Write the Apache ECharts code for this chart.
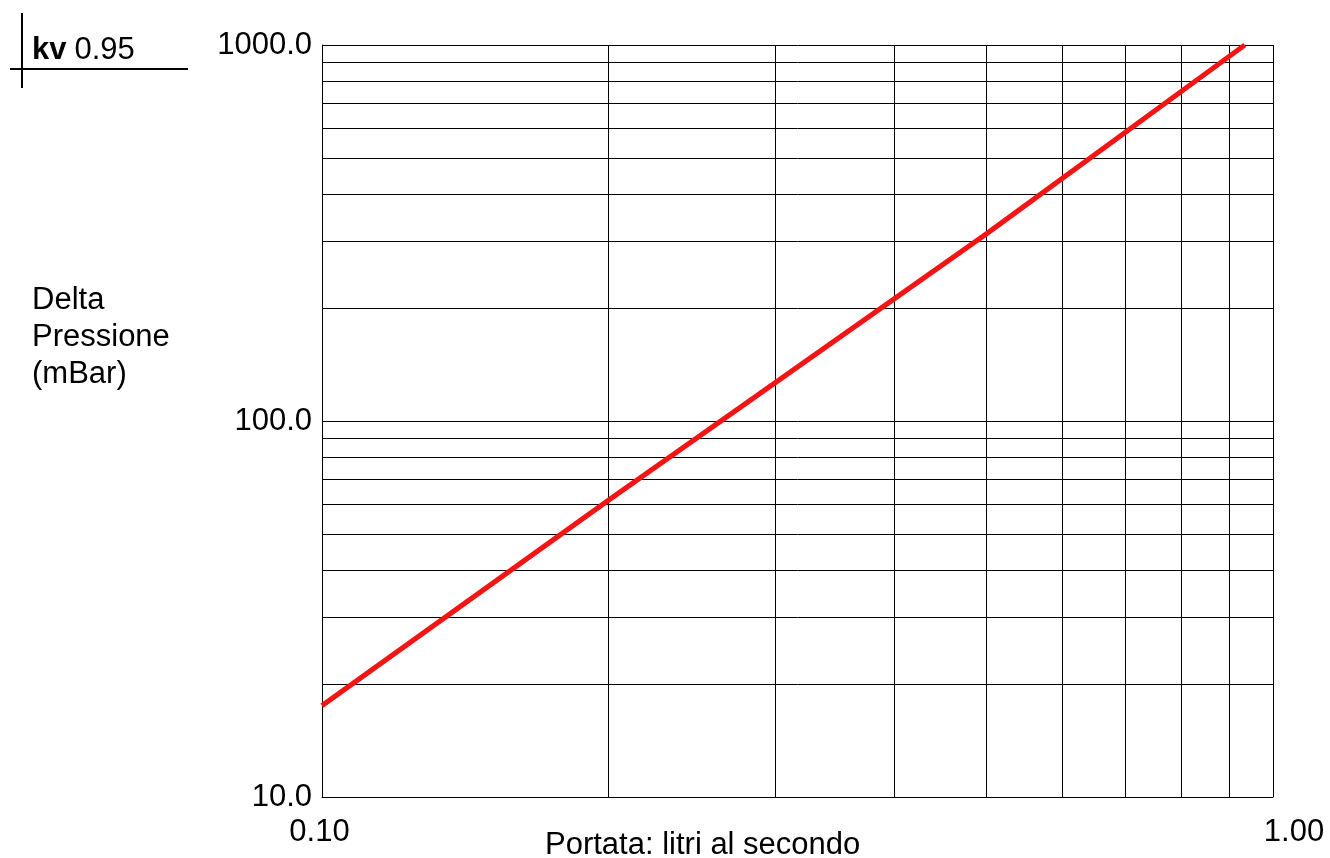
<!DOCTYPE html>
<html><head><meta charset="utf-8">
<script src="https://cdn.jsdelivr.net/npm/echarts@6/dist/echarts.min.js"></script>
<style>html,body{margin:0;padding:0;background:#fff}#c{width:1330px;height:858px}</style>
</head><body><div id="c"></div>
<script>
const flowX = [0.1, 0.2, 0.5, 0.934];
const pressureY = [17.5, 61.5, 315, 1000];
const xMinorGrid = [0.2, 0.3, 0.4, 0.5, 0.6, 0.7, 0.8, 0.9];
const yMinorGrid = [20, 30, 40, 50, 60, 70, 80, 90, 200, 300, 400, 500, 600, 700, 800, 900];
const kvValue = '0.95';
const xTitle = 'Portata: litri al secondo';
const yTitle = 'Delta\nPressione\n(mBar)';

const FONT = 'Liberation Sans, Arial, sans-serif';
const FS = 31;
const chart = echarts.init(document.getElementById('c'));
const pts = flowX.map((x, i) => [x, pressureY[i]]);
const gridLines = xMinorGrid.map(v => ({xAxis: v})).concat(yMinorGrid.map(v => ({yAxis: v})));

chart.setOption({
  animation: false,
  backgroundColor: '#fff',
  textStyle: {fontFamily: FONT},
  title: [
    {left: 27, top: 30, text: '{b|kv} {n|' + kvValue + '}',
     textStyle: {fontWeight: 'normal', rich: {
       b: {fontSize: FS, fontWeight: 'bold', fontFamily: FONT, color: '#000'},
       n: {fontSize: FS, fontWeight: 'normal', fontFamily: FONT, color: '#000', padding: [0, 0, 0, 3]}}}},
    {left: 540, top: 825, text: xTitle,
     textStyle: {fontSize: FS, fontWeight: 'normal', fontFamily: FONT, color: '#000'}},
    {left: 27, top: 277, text: yTitle,
     textStyle: {fontSize: FS, fontWeight: 'normal', fontFamily: FONT, color: '#000', lineHeight: 37}}
  ],
  graphic: [
    {type: 'line', shape: {x1: 22, y1: 13, x2: 22, y2: 88}, style: {stroke: '#000', lineWidth: 2}},
    {type: 'line', shape: {x1: 10, y1: 69, x2: 188, y2: 69}, style: {stroke: '#000', lineWidth: 2}}
  ],
  grid: {left: 322, top: 45, width: 951, height: 752, containLabel: false},
  xAxis: {
    type: 'log', logBase: 10, min: 0.1, max: 1,
    axisLine: {show: true, lineStyle: {color: '#000', width: 1}},
    axisTick: {show: false},
    splitLine: {show: true, lineStyle: {color: '#000', width: 1}},
    axisLabel: {
      color: '#000', fontSize: FS, fontFamily: FONT, margin: 20,
      formatter: v => (Math.abs(v - 1) < 1e-9 ? '{r|' : '{l|') + v.toFixed(2) + '}',
      rich: {l: {fontSize: FS, fontFamily: FONT, color: '#000', padding: [0, 5, 0, 0]},
             r: {fontSize: FS, fontFamily: FONT, color: '#000', padding: [0, 0, 0, 42]}}
    }
  },
  yAxis: {
    type: 'log', logBase: 10, min: 10, max: 1000,
    axisLine: {show: true, lineStyle: {color: '#000', width: 1}},
    axisTick: {show: false},
    splitLine: {show: true, lineStyle: {color: '#000', width: 1}},
    axisLabel: {color: '#000', fontSize: FS, fontFamily: FONT, margin: 10,
      formatter: v => v.toFixed(1)}
  },
  series: [
    {type: 'line', z: 1, data: pts, showSymbol: false, silent: true,
     lineStyle: {width: 0, opacity: 0},
     markLine: {silent: true, symbol: 'none', label: {show: false},
       lineStyle: {color: '#000', width: 1, type: 'solid'},
       emphasis: {disabled: true}, data: gridLines}},
    {type: 'line', z: 5, data: pts, showSymbol: false, silent: true,
     lineStyle: {color: '#f41414', width: 5}}
  ]
});
</script></body></html>
